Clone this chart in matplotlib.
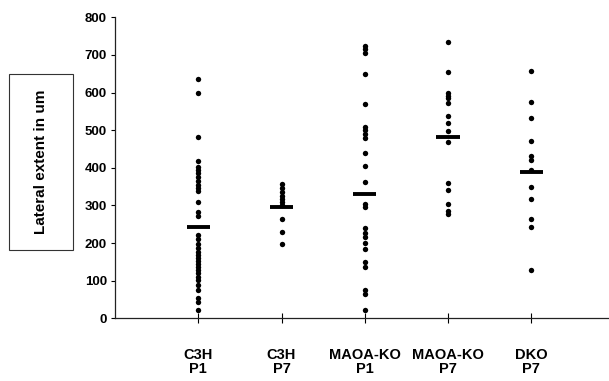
import matplotlib
matplotlib.use("Agg")
import matplotlib.pyplot as plt
import numpy as np
from matplotlib.patches import Rectangle

plt.rcParams["font.family"] = ["Liberation Sans", "DejaVu Sans"]

groups = ["C3H\nP1", "C3H\nP7", "MAOA-KO\nP1", "MAOA-KO\nP7", "DKO\nP7"]

c3h_p1 = [635, 598, 481, 418, 403, 395, 385, 375, 365, 355, 345, 337, 308, 283, 272,
          221, 210, 198, 187, 177, 168, 160, 152, 145, 137, 128, 120, 110, 102, 88,
          76, 54, 42, 22]
c3h_p7 = [357, 345, 335, 325, 318, 310, 300, 263, 229, 197]
maoa_p1 = [723, 715, 706, 650, 570, 509, 500, 490, 480, 438, 405, 363, 305, 295,
           240, 228, 215, 200, 185, 150, 135, 75, 65, 22]
maoa_p7 = [735, 654, 600, 592, 585, 573, 538, 518, 498, 468, 360, 341, 305, 285, 277]
dko_p7 = [658, 574, 532, 472, 431, 422, 394, 348, 317, 263, 243, 129]
means = [243, 295, 331, 481, 389]

series = [c3h_p1, c3h_p7, maoa_p1, maoa_p7, dko_p7]
y_ticks = [0, 100, 200, 300, 400, 500, 600, 700, 800]

fig = plt.figure(figsize=(6.09, 3.81), dpi=100)
ax = fig.add_axes([0.189, 0.1646, 0.82, 0.79])

x_pos = np.arange(1, len(groups) + 1)
for xi, vals in zip(x_pos, series):
    ax.scatter(np.full(len(vals), xi), vals, s=15, color="black", linewidths=0, zorder=3)
ax.hlines(means, x_pos - 0.14, x_pos + 0.14, color="black", linewidth=2.8, zorder=4)

ax.set_xlim(0, 6)
ax.set_ylim(0, 800)
ax.set_yticks(y_ticks)
ax.set_xticks(x_pos)
ax.set_xticklabels(groups, fontsize=10.5, fontweight="bold", linespacing=1.0)
ax.tick_params(axis="x", direction="inout", length=7, width=0.8, pad=18)
ax.tick_params(axis="y", direction="out", length=3, width=0.8, pad=3, labelsize=9.5)
for lbl in ax.get_yticklabels():
    lbl.set_fontweight("bold")

for side in ("top", "right"):
    ax.spines[side].set_visible(False)
for side in ("left", "bottom"):
    ax.spines[side].set_linewidth(0.9)
    ax.spines[side].set_color("#222222")

# boxed y label
fig.patches.append(Rectangle((9 / 609, 1 - 250 / 381), 64 / 609, 176 / 381,
                             transform=fig.transFigure, facecolor="white",
                             edgecolor="#333333", linewidth=0.8))
fig.text(41 / 609, 1 - 162 / 381, "Lateral extent in um", rotation=90,
         ha="center", va="center", fontsize=11, fontweight="bold")

fig.savefig("out.png", dpi=100)
